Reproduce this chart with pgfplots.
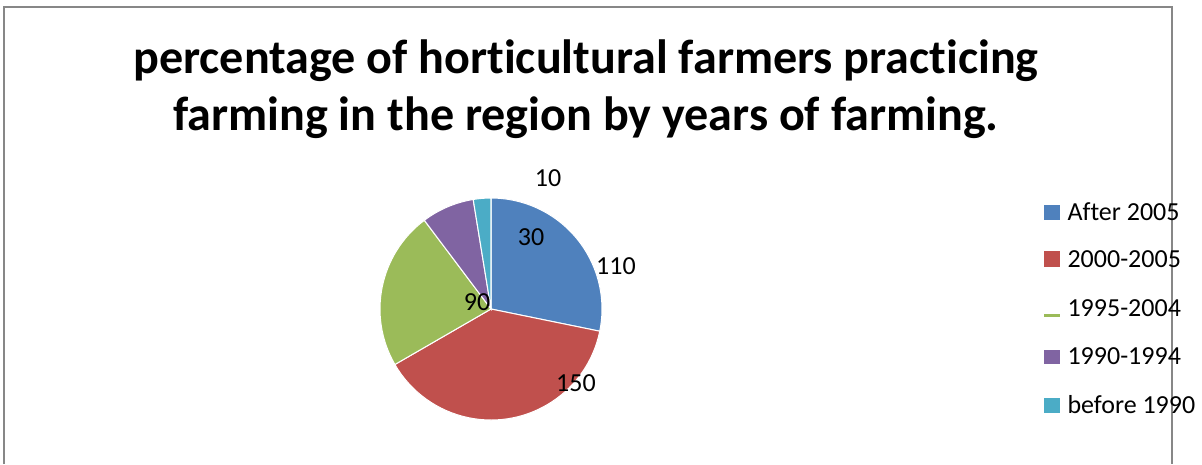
\documentclass[border=0pt]{standalone}
\usepackage{pgfplots}
\pgfplotsset{compat=1.18}
\usepackage{fontspec}
\setmainfont{Carlito}[RawFeature=-liga]
\definecolor{cA}{HTML}{4F81BD}
\definecolor{cB}{HTML}{C0504D}
\definecolor{cC}{HTML}{9BBB59}
\definecolor{cD}{HTML}{8064A2}
\definecolor{cE}{HTML}{4BACC6}
\definecolor{bord}{HTML}{878787}
\def\pieR{42.69pt}
\begin{document}
\begin{tikzpicture}
\begin{axis}[hide axis, clip=false, x=0.3846pt, y=0.3846pt,
  xmin=0, xmax=1202, ymin=0, ymax=464, y dir=reverse]
% border
\draw[bord, line width=0.8pt] (axis cs:4,464) -- (axis cs:4,7) -- (axis cs:1172,7) -- (axis cs:1172,464);
% pie slices: values 110, 150, 90, 30, 10 (total 390), clockwise from top
\fill[cA, draw=white, line width=0.4pt] (axis cs:491,309) -- ++(90:\pieR) arc[start angle=90, end angle={90-110/390*360}, radius=\pieR] -- cycle;
\fill[cB, draw=white, line width=0.4pt] (axis cs:491,309) -- ++({90-110/390*360}:\pieR) arc[start angle={90-110/390*360}, end angle={90-260/390*360}, radius=\pieR] -- cycle;
\fill[cC, draw=white, line width=0.4pt] (axis cs:491,309) -- ++({90-260/390*360}:\pieR) arc[start angle={90-260/390*360}, end angle={90-350/390*360}, radius=\pieR] -- cycle;
\fill[cD, draw=white, line width=0.4pt] (axis cs:491,309) -- ++({90-350/390*360}:\pieR) arc[start angle={90-350/390*360}, end angle={90-380/390*360}, radius=\pieR] -- cycle;
\fill[cE, draw=white, line width=0.4pt] (axis cs:491,309) -- ++({90-380/390*360}:\pieR) arc[start angle={90-380/390*360}, end angle={90-390/390*360}, radius=\pieR] -- cycle;
% title
\node[anchor=base, inner sep=0, font=\fontsize{18.5}{22}\selectfont\bfseries] at (axis cs:586,73) {percentage of horticultural farmers practicing};
\node[anchor=base, inner sep=0, font=\fontsize{18.5}{22}\selectfont\bfseries] at (axis cs:586,130) {farming in the region by years of farming.};
% data labels
\node[inner sep=0, font=\fontsize{10}{12}\selectfont] at (axis cs:548,178) {10};
\node[inner sep=0, font=\fontsize{10}{12}\selectfont] at (axis cs:531,237) {30};
\node[inner sep=0, font=\fontsize{10}{12}\selectfont] at (axis cs:616,266) {110};
\node[inner sep=0, font=\fontsize{10}{12}\selectfont] at (axis cs:477,302) {90};
\node[inner sep=0, font=\fontsize{10}{12}\selectfont] at (axis cs:576,383) {150};
% legend
\fill[cA] (axis cs:1044,205) rectangle (axis cs:1060,220);
\fill[cB] (axis cs:1044,251) rectangle (axis cs:1060,267);
\fill[cC] (axis cs:1044,314) rectangle (axis cs:1060,316.5);
\fill[cD] (axis cs:1044,350) rectangle (axis cs:1060,364);
\fill[cE] (axis cs:1044,398) rectangle (axis cs:1060,413);
\node[anchor=base west, inner sep=0, font=\fontsize{10}{12}\selectfont] at (axis cs:1067,220) {After 2005};
\node[anchor=base west, inner sep=0, font=\fontsize{10}{12}\selectfont] at (axis cs:1067,267) {2000-2005};
\node[anchor=base west, inner sep=0, font=\fontsize{10}{12}\selectfont] at (axis cs:1067,316) {1995-2004};
\node[anchor=base west, inner sep=0, font=\fontsize{10}{12}\selectfont] at (axis cs:1067,364) {1990-1994};
\node[anchor=base west, inner sep=0, font=\fontsize{10}{12}\selectfont] at (axis cs:1067,413) {before 1990};
\coordinate (TL) at (axis cs:0,0);
\coordinate (BR) at (axis cs:1202,464);
\end{axis}
\pgfresetboundingbox
\path[use as bounding box] (TL) rectangle (BR);
\end{tikzpicture}
\end{document}
